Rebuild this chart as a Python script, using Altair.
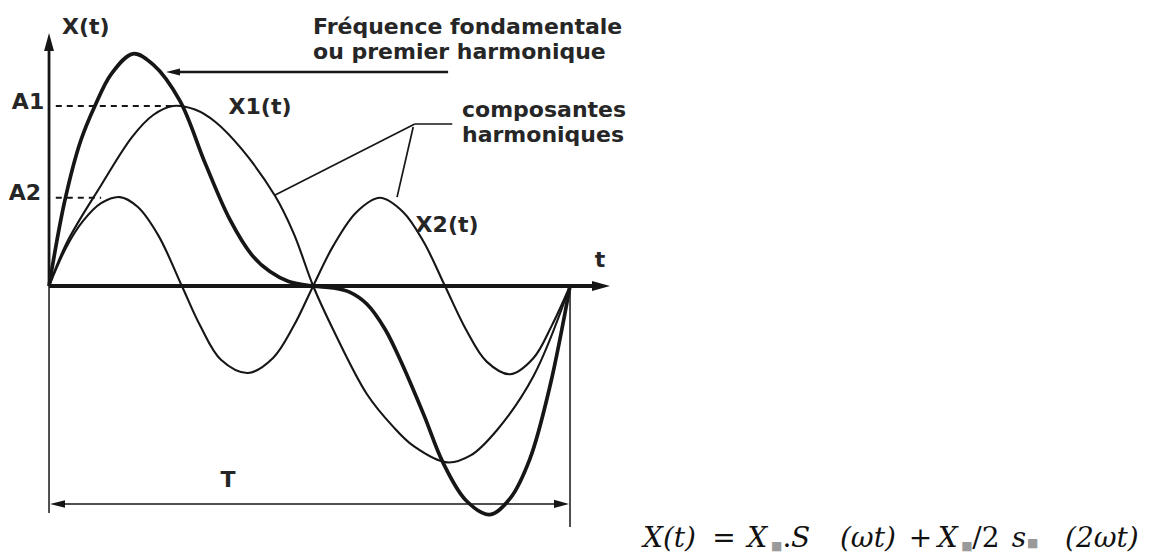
import altair as alt
import pandas as pd

# Time is in periods (T = 1); amplitude is in units of A1.
x1_t = [0, 0.034, 0.10, 0.16, 0.20, 0.238, 0.28, 0.32, 0.37, 0.434, 0.47, 0.507,
        0.545, 0.61, 0.66, 0.70, 0.764, 0.81, 0.86, 0.93, 1.0]
x1_v = [0, 0.24, 0.56, 0.83, 0.95, 1.0, 0.98, 0.91, 0.76, 0.50, 0.29, 0.0,
        -0.24, -0.60, -0.78, -0.89, -0.98, -0.94, -0.80, -0.50, 0.0]

x2_t = [0, 0.034, 0.065, 0.10, 0.136, 0.17, 0.21, 0.255, 0.29, 0.33, 0.382, 0.43, 0.47,
        0.507, 0.545, 0.59, 0.635, 0.68, 0.72, 0.76, 0.80, 0.84, 0.885, 0.93, 0.965, 1.0]
x2_v = [0, 0.22, 0.36, 0.46, 0.494, 0.44, 0.28, 0.0, -0.22, -0.41, -0.483, -0.40, -0.22,
        0.0, 0.22, 0.41, 0.49, 0.41, 0.24, 0.0, -0.24, -0.42, -0.49, -0.40, -0.22, 0.0]

sum_t = [0, 0.03, 0.06, 0.088, 0.12, 0.161, 0.20, 0.251, 0.30, 0.347, 0.39, 0.424, 0.46,
         0.507, 0.545, 0.578, 0.61, 0.645, 0.674, 0.72, 0.756, 0.80, 0.846, 0.885, 0.923,
         0.962, 1.0]
sum_v = [0, 0.47, 0.80, 1.0, 1.18, 1.29, 1.23, 1.03, 0.68, 0.37, 0.17, 0.08, 0.025,
         0.0, -0.01, -0.035, -0.10, -0.24, -0.41, -0.72, -0.98, -1.19, -1.27, -1.18, -0.96,
         -0.55, 0.0]

A1 = 1.0
A2 = 0.49

INK = "#161616"
X_DOMAIN = [-0.0941, 2.1113]
Y_DOMAIN = [-1.4944, 1.5889]

xs = alt.Scale(domain=X_DOMAIN, nice=False, zero=False)
ys = alt.Scale(domain=Y_DOMAIN, nice=False, zero=False)


def X(field="t"):
    return alt.X(f"{field}:Q", scale=xs, axis=None)


def Y(field="v"):
    return alt.Y(f"{field}:Q", scale=ys, axis=None)


curves = pd.DataFrame(
    [{"curve": "X1(t)", "t": t, "v": v} for t, v in zip(x1_t, x1_v)]
    + [{"curve": "X2(t)", "t": t, "v": v} for t, v in zip(x2_t, x2_v)]
)
total = pd.DataFrame({"t": sum_t, "v": sum_v})

thin = alt.Chart(curves).mark_line(
    interpolate="catmull-rom", color=INK, strokeWidth=2.1
).encode(x=X(), y=Y(), detail="curve:N")

thick = alt.Chart(total).mark_line(
    interpolate="catmull-rom", color=INK, strokeWidth=3.7
).encode(x=X(), y=Y())

# axes, dimension lines and leaders
segs = pd.DataFrame([
    {"t": 0.0, "v": 0.0, "t2": 0.0, "v2": 1.33, "w": 2.8},        # X(t) axis
    {"t": 0.0, "v": 0.0, "t2": 0.0, "v2": -1.261, "w": 1.5},      # left extent of T
    {"t": 0.0, "v": 0.0, "t2": 1.045, "v2": 0.0, "w": 3.8},       # t axis
    {"t": 1.0, "v": -0.02, "t2": 1.0, "v2": -1.339, "w": 1.5},    # right extent of T
    {"t": 0.02, "v": -1.211, "t2": 0.98, "v2": -1.211, "w": 1.6},  # T dimension
    {"t": 0.24, "v": 1.189, "t2": 0.766, "v2": 1.189, "w": 2.3},  # fundamental pointer
    {"t": 0.774, "v": 0.90, "t2": 0.702, "v2": 0.90, "w": 1.7},
    {"t": 0.702, "v": 0.90, "t2": 0.434, "v2": 0.506, "w": 1.7},
    {"t": 0.699, "v": 0.883, "t2": 0.668, "v2": 0.494, "w": 1.7},
])
rules = alt.Chart(segs).mark_rule(color=INK).encode(
    x=X(), y=Y(), x2="t2:Q", y2="v2:Q",
    strokeWidth=alt.StrokeWidth("w:Q", scale=None),
)

dashes = pd.DataFrame([
    {"t": 0.013, "v": A1, "t2": 0.238, "v2": A1},
    {"t": 0.013, "v": A2, "t2": 0.10, "v2": A2},
])
dashed = alt.Chart(dashes).mark_rule(
    color=INK, strokeWidth=1.9, strokeDash=[6, 5]
).encode(x=X(), y=Y(), x2="t2:Q", y2="v2:Q")

UP = "M0,-1L0.55,1L-0.55,1Z"
RIGHT = "M1,0L-1,-0.55L-1,0.55Z"
LEFT = "M-1,0L1,-0.5L1,0.5Z"
heads = pd.DataFrame([
    {"t": 0.0, "v": 1.356, "shape": UP, "size": 324},
    {"t": 1.0595, "v": 0.0, "shape": RIGHT, "size": 324},
    {"t": 0.0163, "v": -1.211, "shape": LEFT, "size": 225},
    {"t": 0.9837, "v": -1.211, "shape": RIGHT, "size": 225},
    {"t": 0.238, "v": 1.189, "shape": LEFT, "size": 196},
])
arrows = alt.Chart(heads).mark_point(
    filled=True, color=INK, opacity=1, strokeWidth=0
).encode(
    x=X(), y=Y(),
    shape=alt.Shape("shape:N", scale=None),
    size=alt.Size("size:Q", scale=None),
)

labels = pd.DataFrame([
    {"text": "X(t)", "t": 0.025, "v": 1.439, "align": "left"},
    {"text": "A1", "t": -0.0403, "v": 1.022, "align": "center"},
    {"text": "A2", "t": -0.0461, "v": 0.517, "align": "center"},
    {"text": "X1(t)", "t": 0.405, "v": 0.994, "align": "center"},
    {"text": "X2(t)", "t": 0.764, "v": 0.339, "align": "center"},
    {"text": "t", "t": 1.0576, "v": 0.144, "align": "center"},
    {"text": "T", "t": 0.3436, "v": -1.078, "align": "center"},
    {"text": "Fréquence fondamentale", "t": 0.5067, "v": 1.439, "align": "left"},
    {"text": "ou premier harmonique", "t": 0.5067, "v": 1.30, "align": "left"},
    {"text": "composantes", "t": 0.7927, "v": 0.978, "align": "left"},
    {"text": "harmoniques", "t": 0.7927, "v": 0.839, "align": "left"},
])


def label_layer(align):
    sub = labels[labels["align"] == align]
    return alt.Chart(sub).mark_text(
        font="DejaVu Sans", fontSize=22, fontWeight="bold", color="#262626",
        align=align, baseline="middle",
    ).encode(x=X(), y=Y(), text="text:N")


# formula written under the figure
formula = pd.DataFrame([
    {"text": "X(t)", "t": 1.140, "italic": True},
    {"text": "=", "t": 1.273, "italic": False},
    {"text": "X", "t": 1.340, "italic": True},
    {"text": ".", "t": 1.408, "italic": False},
    {"text": "S", "t": 1.424, "italic": True},
    {"text": "(ωt)", "t": 1.518, "italic": True},
    {"text": "+", "t": 1.650, "italic": False},
    {"text": "X", "t": 1.706, "italic": True},
    {"text": "/2", "t": 1.772, "italic": False},
    {"text": "s", "t": 1.848, "italic": True},
    {"text": "(2ωt)", "t": 1.950, "italic": True},
])
formula["v"] = -1.45
boxes = pd.DataFrame({
    "text": ["■", "■", "■"],
    "t": [1.386, 1.751, 1.877],
    "v": [-1.468, -1.468, -1.45],
})

f_italic = alt.Chart(formula[formula["italic"]]).mark_text(
    font="DejaVu Serif", fontSize=28, fontStyle="italic", color="#111",
    align="left", baseline="alphabetic",
).encode(x=X(), y=Y(), text="text:N")
f_plain = alt.Chart(formula[~formula["italic"]]).mark_text(
    font="DejaVu Serif", fontSize=28, color="#111",
    align="left", baseline="alphabetic",
).encode(x=X(), y=Y(), text="text:N")
f_boxes = alt.Chart(boxes).mark_text(
    font="DejaVu Sans", fontSize=12, color="#9a9a9a",
    align="left", baseline="alphabetic",
).encode(x=X(), y=Y(), text="text:N")

chart = alt.layer(
    dashed, rules, thin, thick, arrows,
    label_layer("left"), label_layer("center"),
    f_italic, f_plain, f_boxes,
).properties(
    width=1149, height=555, padding=0,
    autosize=alt.AutoSizeParams(type="none"),
    background="white",
).configure_view(stroke=None)

chart.save("out.html", embed_options={"renderer": "svg", "actions": False})
